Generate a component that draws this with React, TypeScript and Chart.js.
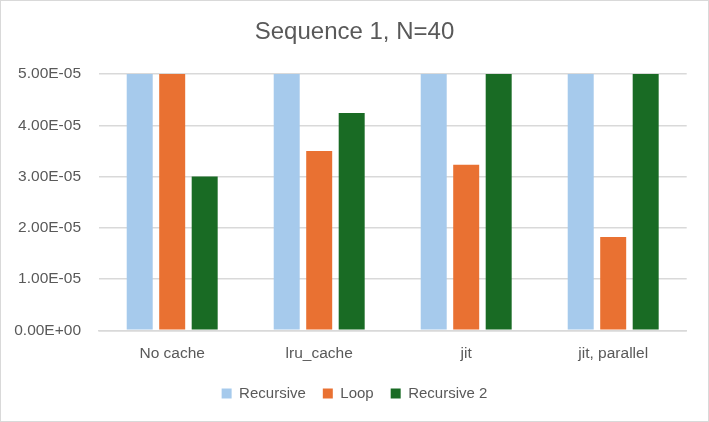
import React, { useEffect, useRef } from "react";
import { Chart, registerables } from "chart.js";

Chart.register(...registerables);

const categories = ["No cache", "lru_cache", "jit", "jit, parallel"];
const seriesNames = ["Recursive", "Loop", "Recursive 2"];
const recursive = [5.0e-5, 5.0e-5, 5.0e-5, 5.0e-5];
const loop = [5.0e-5, 3.5e-5, 3.23e-5, 1.82e-5];
const recursive2 = [3.0e-5, 4.24e-5, 5.0e-5, 5.0e-5];
const yTicks = [0, 1e-5, 2e-5, 3e-5, 4e-5, 5e-5];
const colors = ["#A6CAEC", "#E97132", "#196B24"];

const TEXT = "#595959";
const GRID = "#D9D9D9";
const FONT = "'Liberation Sans', Arial, sans-serif";

function fmtSci(v: number): string {
  const s = Number(v).toExponential(2);
  const [m, e] = s.split("e");
  const sign = e[0] === "-" ? "-" : "+";
  const digits = e.replace(/^[+-]/, "").padStart(2, "0");
  return `${m}E${sign}${digits}`;
}

export default function App() {
  const ref = useRef<HTMLCanvasElement | null>(null);

  useEffect(() => {
    document.body.style.margin = "0";
    const canvas = ref.current;
    if (!canvas) return;
    const chart = new Chart(canvas, {
      type: "bar",
      data: {
        labels: categories,
        datasets: [recursive, loop, recursive2].map((d, i) => ({
          label: seriesNames[i],
          data: d,
          backgroundColor: colors[i],
          borderWidth: 0,
          categoryPercentage: 0.663,
          barPercentage: 0.8,
        })),
      },
      options: {
        responsive: false,
        animation: false,
        devicePixelRatio: 1,
        layout: { padding: { left: 0, right: 0, top: 0, bottom: 10 } },
        plugins: {
          title: {
            display: true,
            text: "Sequence 1, N=40",
            color: TEXT,
            font: { family: FONT, size: 24, weight: "normal" },
            padding: { top: 16.6, bottom: 27.6 },
          },
          legend: {
            position: "bottom",
            labels: {
              color: TEXT,
              font: { family: FONT, size: 15 },
              boxWidth: 10,
              boxHeight: 10,
              padding: 17,
            },
          },
          tooltip: { enabled: false },
        },
        scales: {
          x: {
            grid: { display: false, drawTicks: false },
            border: { display: true, color: GRID, width: 1.5 },
            ticks: {
              color: TEXT,
              font: { family: FONT, size: 15.5 },
              padding: 14,
              maxRotation: 0,
            },
            afterFit: (scale: any) => {
              scale.height = 38.7;
            },
          },
          y: {
            min: 0,
            max: 5e-5,
            grid: { color: GRID, lineWidth: 1.5, drawTicks: false },
            border: { display: false },
            ticks: {
              color: TEXT,
              font: { family: FONT, size: 15.5 },
              padding: 17.7,
              callback: (v: any) => fmtSci(Number(v)),
            },
            afterBuildTicks: (scale: any) => {
              scale.ticks = yTicks.map((v) => ({ value: v }));
            },
            afterFit: (scale: any) => {
              scale.width = 97.7;
            },
          },
          yRight: {
            type: "linear",
            position: "right",
            display: true,
            grid: { display: false, drawTicks: false },
            border: { display: false },
            ticks: { display: false },
            afterFit: (scale: any) => {
              scale.width = 21.3;
            },
          },
        },
      },
    });
    return () => chart.destroy();
  }, []);

  return (
    <div
      style={{
        position: "absolute",
        left: 0,
        top: 0,
        width: 709,
        height: 422,
        boxSizing: "border-box",
        border: "1px solid #D9D9D9",
        background: "#fff",
      }}
    >
      <canvas ref={ref} width={707} height={420} style={{ display: "block", width: 707, height: 420 }} />
    </div>
  );
}
